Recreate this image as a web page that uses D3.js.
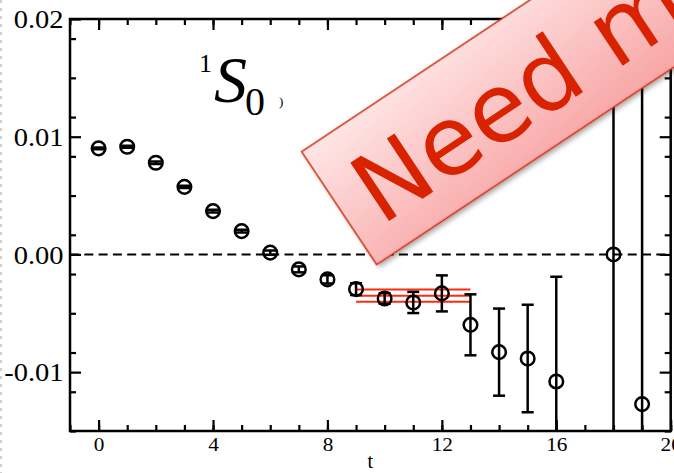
<!DOCTYPE html>
<html>
<head>
<meta charset="utf-8">
<script src="https://cdn.jsdelivr.net/npm/d3@7"></script>
<style>
  html, body { margin: 0; padding: 0; background: #fff; overflow: hidden; }
  svg { display: block; }
</style>
</head>
<body>
<script>
// ---- data ----
const tValues = [0, 1, 2, 3, 4, 5, 6, 7, 8, 9, 10, 11, 12, 13, 14, 15, 16, 18, 19];
const yValues = [0.00901, 0.00915, 0.00779, 0.00574, 0.00368, 0.00198, 0.00015, -0.00127, -0.00212, -0.00295,
                 -0.00374, -0.00408, -0.00331, -0.00598, -0.0083, -0.00884, -0.01079, 0.0, -0.01272];
const yErrors = [0.00008, 0.00008, 0.0001, 0.0001, 0.00012, 0.00012, 0.00018, 0.00025, 0.00035, 0.0005,
                 0.00045, 0.0009, 0.00153, 0.00259, 0.0037, 0.00457, 0.0089, 0.05, 0.05];
const fitRange = [9, 13];
const fitValue = -0.0035;
const fitError = 0.00053;
const xTickLabels = [0, 4, 8, 12, 16, 20];
const yTickLabels = [-0.01, 0.00, 0.01, 0.02];
const xLabel = "t";
const bannerText = "Need more data";

// ---- layout ----
const W = 674, H = 473;
const pL = 70, pR = 670.7, pT = 19, pB = 431;

const svg = d3.select("body").append("svg").attr("width", W).attr("height", H);

const x = d3.scaleLinear().domain([-1, 20]).range([pL, pR]);
const y = d3.scaleLinear().domain([-0.015, 0.02]).range([pB, pT]);

// faint dashed border at the left
svg.append("line").attr("x1", 1).attr("x2", 1).attr("y1", 0).attr("y2", H)
  .attr("stroke", "#d0d0d0").attr("stroke-width", 2).attr("stroke-dasharray", "3,5");

const defs = svg.append("defs");
defs.append("clipPath").attr("id", "plotclip").append("rect")
  .attr("x", pL).attr("y", pT).attr("width", pR - pL).attr("height", pB - pT);

// ---- axes ----
const xMinor = d3.range(-1, 21, 1);
const yMinor = d3.range(-15, 21, 10 / 3).map(v => v / 1000);
const serif = "'Liberation Serif', 'Times New Roman', serif";

function styleAxis(g) {
  g.select(".domain").remove();
  g.selectAll("line").attr("stroke", "#000").attr("stroke-width", 2.2);
}

// minor ticks
svg.append("g").attr("transform", `translate(0,${pB})`)
  .call(d3.axisBottom(x).tickValues(xMinor).tickSize(-6).tickFormat(""))
  .call(styleAxis);
svg.append("g").attr("transform", `translate(0,${pT})`)
  .call(d3.axisTop(x).tickValues(xMinor).tickSize(-6).tickFormat(""))
  .call(styleAxis);
svg.append("g").attr("transform", `translate(${pL},0)`)
  .call(d3.axisLeft(y).tickValues(yMinor).tickSize(-6).tickFormat(""))
  .call(styleAxis);
svg.append("g").attr("transform", `translate(${pR},0)`)
  .call(d3.axisRight(y).tickValues(yMinor).tickSize(-6).tickFormat(""))
  .call(styleAxis);

// major ticks with labels
const xAxisG = svg.append("g").attr("transform", `translate(0,${pB})`)
  .call(d3.axisBottom(x).tickValues(xTickLabels).tickSize(-11).tickFormat(d => String(d)))
  .call(styleAxis);
xAxisG.selectAll("text")
  .attr("y", 20).attr("dy", 0)
  .attr("font-family", serif).attr("font-size", 19).attr("fill", "#000")
  .attr("transform", "scale(1.12,1)");

svg.append("g").attr("transform", `translate(0,${pT})`)
  .call(d3.axisTop(x).tickValues(xTickLabels).tickSize(-11).tickFormat(""))
  .call(styleAxis);

const yAxisG = svg.append("g").attr("transform", `translate(${pL},0)`)
  .call(d3.axisLeft(y).tickValues(yTickLabels).tickSize(-11).tickFormat(d => d.toFixed(2)))
  .call(styleAxis);
yAxisG.selectAll("text")
  .attr("x", -6.5 / 1.14).attr("dy", "0.35em")
  .attr("font-family", serif).attr("font-size", 25).attr("fill", "#000")
  .attr("transform", "scale(1.14,1)");

svg.append("g").attr("transform", `translate(${pR},0)`)
  .call(d3.axisRight(y).tickValues(yTickLabels).tickSize(-11).tickFormat(""))
  .call(styleAxis);

// frame
svg.append("rect").attr("x", pL).attr("y", pT)
  .attr("width", pR - pL).attr("height", pB - pT)
  .attr("fill", "none").attr("stroke", "#000").attr("stroke-width", 2.5);

// x label
svg.append("text").attr("x", x(9.5)).attr("y", 468)
  .attr("text-anchor", "middle").attr("font-family", serif).attr("font-size", 20)
  .text(xLabel);

// ---- plot content ----
const plot = svg.append("g").attr("clip-path", "url(#plotclip)");

// zero dashed line
plot.append("line").attr("x1", pL).attr("x2", pR).attr("y1", y(0)).attr("y2", y(0))
  .attr("stroke", "#000").attr("stroke-width", 2).attr("stroke-dasharray", "9,5.3");

// fit band lines
[fitValue + fitError, fitValue, fitValue - fitError].forEach(v => {
  plot.append("line")
    .attr("x1", x(fitRange[0])).attr("x2", x(fitRange[1]))
    .attr("y1", y(v)).attr("y2", y(v))
    .attr("stroke", "#ff2a10").attr("stroke-width", 2);
});

const pts = tValues.map((t, i) => ({ t, v: yValues[i], e: yErrors[i] }));
const capW = 6;

const eb = plot.append("g").attr("stroke", "#000").attr("stroke-width", 2.5).attr("fill", "none");
pts.forEach(d => {
  const cx = x(d.t), y1 = y(d.v + d.e), y2 = y(d.v - d.e);
  eb.append("line").attr("x1", cx).attr("x2", cx).attr("y1", y1).attr("y2", y2);
  eb.append("line").attr("x1", cx - capW).attr("x2", cx + capW).attr("y1", y1).attr("y2", y1);
  eb.append("line").attr("x1", cx - capW).attr("x2", cx + capW).attr("y1", y2).attr("y2", y2);
});

plot.append("g").selectAll("circle").data(pts).join("circle")
  .attr("cx", d => x(d.t)).attr("cy", d => y(d.v)).attr("r", 6.8)
  .attr("fill", "none").attr("stroke", "#000").attr("stroke-width", 2.5);

// ---- title 1S0 ----
const title = svg.append("g").attr("font-family", serif).attr("fill", "#000");
title.append("text").attr("x", 199).attr("y", 72).attr("font-size", 26).text("1");
title.append("text").attr("x", 214).attr("y", 102).attr("font-size", 66)
  .attr("font-style", "italic").text("S");
title.append("text").attr("x", 245).attr("y", 115).attr("font-size", 40).text("0");
title.append("text").attr("x", 279).attr("y", 106).attr("font-size", 13).text(")");

// ---- banner ----
const grad = defs.append("linearGradient").attr("id", "bannerGrad")
  .attr("x1", "0").attr("y1", "0").attr("x2", "0.6").attr("y2", "1");
grad.append("stop").attr("offset", "0%").attr("stop-color", "#ffe6e6");
grad.append("stop").attr("offset", "100%").attr("stop-color", "#f8a2a2");

const shadow = defs.append("filter").attr("id", "shadow")
  .attr("x", "-20%").attr("y", "-20%").attr("width", "140%").attr("height", "160%");
shadow.append("feDropShadow").attr("dx", 1.5).attr("dy", 3).attr("stdDeviation", 2.5)
  .attr("flood-color", "#000").attr("flood-opacity", 0.35);

const banner = svg.append("g").attr("transform", "translate(301.7,151.7) rotate(-33.6)");
banner.append("rect").attr("x", 0).attr("y", 0).attr("width", 720).attr("height", 135.5)
  .attr("fill", "url(#bannerGrad)").attr("stroke", "#d02808").attr("stroke-width", 1.5)
  .attr("filter", "url(#shadow)");
banner.append("text").attr("x", 25).attr("y", 106)
  .attr("font-family", "'DejaVu Sans', Verdana, sans-serif").attr("font-size", 96)
  .attr("fill", "#d82200").text(bannerText);
</script>
</body>
</html>
